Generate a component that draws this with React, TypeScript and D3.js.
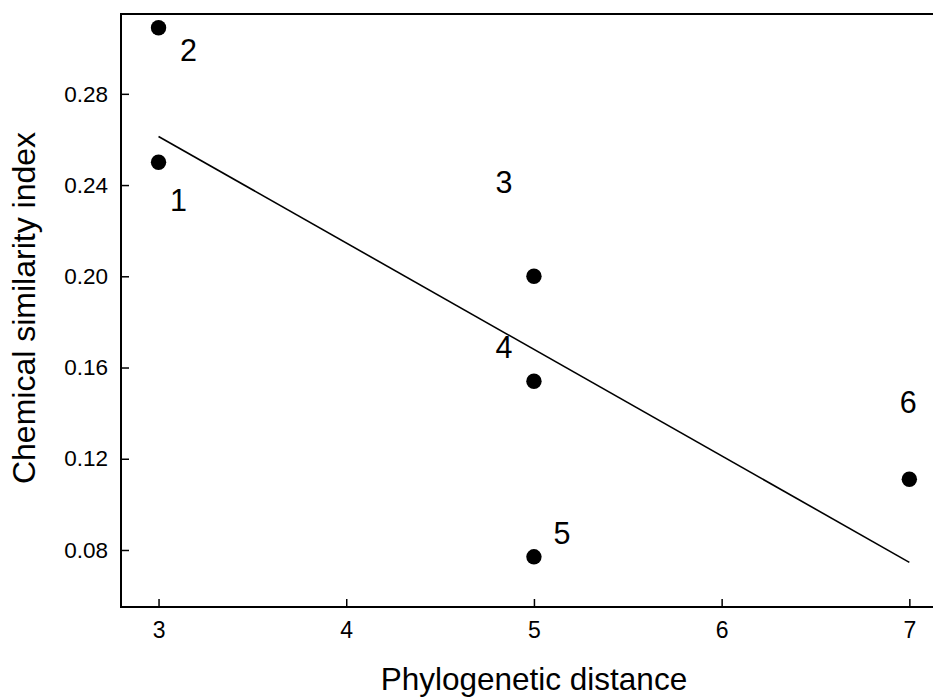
import React, { useRef, useEffect } from 'react';
import * as d3 from 'd3';

// species pairs: phylogenetic distance vs chemical similarity
const pairIds = ['1', '2', '3', '4', '5', '6'];
const phyloDist = [3, 3, 5, 5, 5, 7];
const chemSim = [0.25, 0.309, 0.2, 0.154, 0.077, 0.111];

const xTicks = [3, 4, 5, 6, 7];
const yTicks = [0.08, 0.12, 0.16, 0.2, 0.24, 0.28];

// label offsets (px) from each point, text-anchor middle, baseline
const labelOffsets = [
  [20, 49],
  [30, 33],
  [-30, -83],
  [-30, -23],
  [28, -13],
  [-1, -66],
];

const W = 933;
const H = 698;
const FONT = 'Arial, "Liberation Sans", Helvetica, sans-serif';

export default function App() {
  const svgRef = useRef<SVGSVGElement>(null);

  useEffect(() => {
    const svg = d3.select(svgRef.current);
    svg.selectAll('*').remove();

    const margin = { top: 14, left: 121, bottom: 607 };

    const x = d3.scaleLinear().domain([2.8, 7.2]).range([margin.left, margin.left + 4.4 * 187.7]);
    const y = d3.scaleLinear().domain([0.055, 0.315]).range([margin.bottom, margin.top]);

    // frame: left, bottom, top (right side falls outside the image)
    const frame = svg.append('g').attr('stroke', '#000').attr('stroke-width', 2).attr('fill', 'none');
    frame.append('line').attr('x1', x(2.8)).attr('x2', x(2.8)).attr('y1', y(0.315) - 1).attr('y2', y(0.055) + 1);
    frame.append('line').attr('x1', x(2.8)).attr('x2', x(7.2)).attr('y1', y(0.055)).attr('y2', y(0.055));
    frame.append('line').attr('x1', x(2.8)).attr('x2', x(7.2)).attr('y1', y(0.315)).attr('y2', y(0.315));

    // x axis, ticks pointing inward
    const gx = svg.append('g')
      .attr('transform', `translate(0,${y(0.055)})`)
      .call(d3.axisBottom(x).tickValues(xTicks).tickFormat(d3.format('d')).tickSizeInner(-8).tickSizeOuter(0).tickPadding(15));
    gx.select('.domain').remove();
    gx.selectAll('line').attr('stroke-width', 1.5);
    gx.selectAll('text').attr('font-size', 23).attr('font-family', FONT).attr('fill', '#000');

    // y axis
    const gy = svg.append('g')
      .attr('transform', `translate(${x(2.8)},0)`)
      .call(d3.axisLeft(y).tickValues(yTicks).tickFormat(d3.format('.2f')).tickSizeInner(-8).tickSizeOuter(0).tickPadding(13));
    gy.select('.domain').remove();
    gy.selectAll('line').attr('stroke-width', 1.5);
    gy.selectAll('text').attr('font-size', 22.5).attr('font-family', FONT).attr('fill', '#000');

    // least squares fit
    const mx = d3.mean(phyloDist) as number;
    const my = d3.mean(chemSim) as number;
    const sxy = d3.sum(phyloDist, (v, i) => (v - mx) * (chemSim[i] - my));
    const sxx = d3.sum(phyloDist, v => (v - mx) * (v - mx));
    const slope = sxy / sxx;
    const icpt = my - slope * mx;
    const [x0, x1] = d3.extent(phyloDist) as [number, number];
    const line = d3.line<number>().x(d => x(d)).y(d => y(icpt + slope * d));
    svg.append('path')
      .attr('d', line([x0, x1]))
      .attr('stroke', '#000')
      .attr('stroke-width', 1.6)
      .attr('fill', 'none');

    // points
    svg.append('g').selectAll('circle')
      .data(pairIds)
      .enter().append('circle')
      .attr('cx', (d, i) => x(phyloDist[i]))
      .attr('cy', (d, i) => y(chemSim[i]))
      .attr('r', 7.7)
      .attr('fill', '#000');

    // point labels
    svg.append('g').selectAll('text')
      .data(pairIds)
      .enter().append('text')
      .attr('x', (d, i) => x(phyloDist[i]) + labelOffsets[i][0])
      .attr('y', (d, i) => y(chemSim[i]) + labelOffsets[i][1])
      .attr('text-anchor', 'middle')
      .attr('font-size', 30.5)
      .attr('font-family', FONT)
      .text(d => d);

    // axis titles
    svg.append('text')
      .attr('x', (x(3) + x(7)) / 2)
      .attr('y', 690)
      .attr('text-anchor', 'middle')
      .attr('font-size', 31.5)
      .attr('font-family', FONT)
      .text('Phylogenetic distance');

    svg.append('text')
      .attr('transform', `translate(35,308) rotate(-90)`)
      .attr('text-anchor', 'middle')
      .attr('font-size', 32)
      .attr('font-family', FONT)
      .text('Chemical similarity index');
  }, []);

  return (
    <svg
      ref={svgRef}
      width={W}
      height={H}
      style={{ position: 'absolute', left: 0, top: 0, background: '#fff' }}
    />
  );
}
